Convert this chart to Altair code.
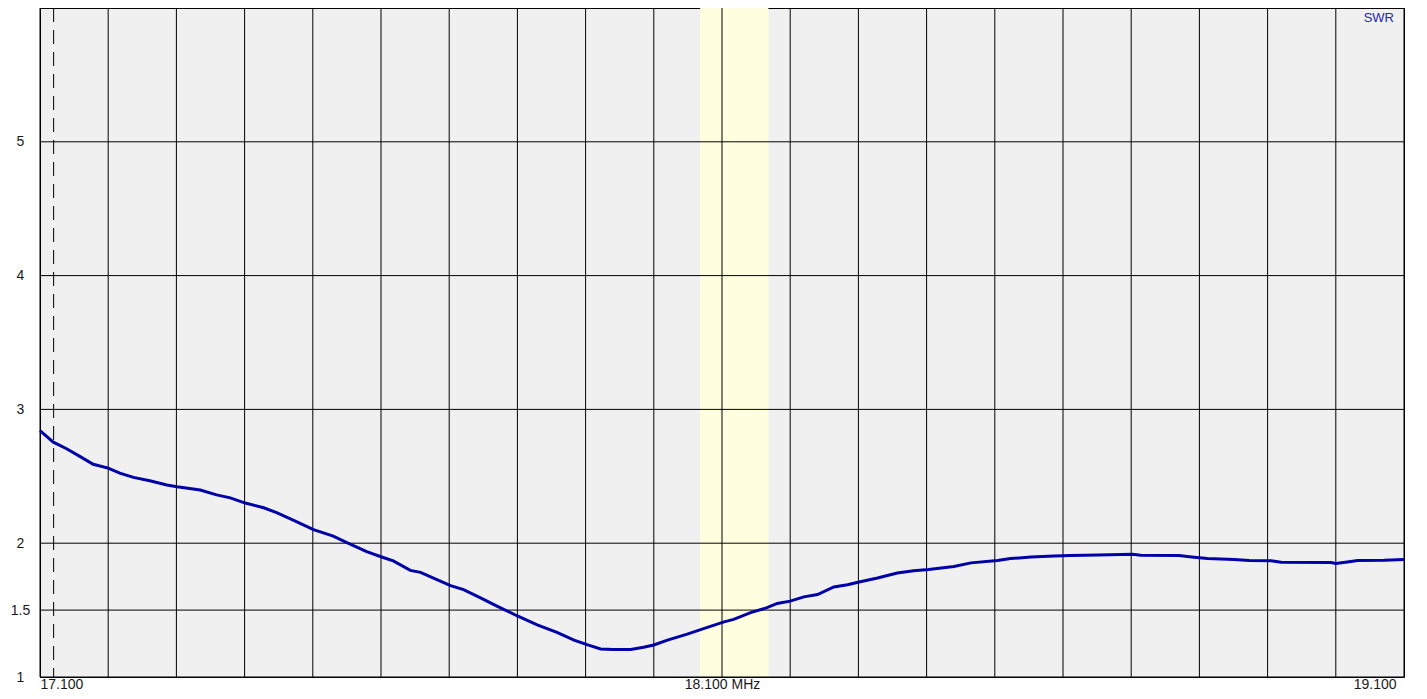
import altair as alt
import pandas as pd

# ---- data ----
freq_mhz = [17.100, 17.1195, 17.139, 17.159, 17.178, 17.200, 17.217, 17.237, 17.261, 17.286,
            17.301, 17.335, 17.359, 17.379, 17.401, 17.428, 17.447, 17.472, 17.501, 17.530,
            17.550, 17.579, 17.601, 17.618, 17.643, 17.658, 17.682, 17.702, 17.721, 17.746,
            17.770, 17.800, 17.829, 17.858, 17.883, 17.902, 17.922, 17.941, 17.966, 17.985,
            18.000, 18.020, 18.049, 18.073, 18.103, 18.117, 18.142, 18.166, 18.181, 18.200,
            18.220, 18.240, 18.264, 18.284, 18.301, 18.328, 18.357, 18.381, 18.403, 18.440,
            18.465, 18.504, 18.523, 18.553, 18.587, 18.611, 18.651, 18.702, 18.714, 18.770,
            18.792, 18.812, 18.851, 18.873, 18.905, 18.920, 18.993, 19.000, 19.017, 19.032,
            19.071, 19.100]
swr = [2.842, 2.755, 2.706, 2.647, 2.590, 2.561, 2.524, 2.492, 2.467, 2.435,
       2.422, 2.398, 2.361, 2.339, 2.300, 2.265, 2.228, 2.171, 2.102, 2.053,
       2.004, 1.937, 1.897, 1.868, 1.797, 1.782, 1.727, 1.683, 1.653, 1.592,
       1.530, 1.456, 1.390, 1.333, 1.276, 1.242, 1.209, 1.205, 1.205, 1.222,
       1.239, 1.276, 1.320, 1.362, 1.412, 1.431, 1.481, 1.518, 1.550, 1.567,
       1.599, 1.616, 1.673, 1.690, 1.710, 1.740, 1.777, 1.794, 1.804, 1.826,
       1.853, 1.871, 1.885, 1.897, 1.905, 1.908, 1.912, 1.917, 1.910, 1.908,
       1.895, 1.885, 1.878, 1.871, 1.868, 1.858, 1.856, 1.848, 1.860, 1.871,
       1.873, 1.878]

x_grid = [17.1, 17.2, 17.3, 17.4, 17.5, 17.6, 17.7, 17.8, 17.9, 18.0, 18.1,
          18.2, 18.3, 18.4, 18.5, 18.6, 18.7, 18.8, 18.9, 19.0, 19.1]
x_label_values = [17.1, 18.1, 19.1]
y_grid = [1, 1.5, 2, 3, 4, 5]
y_label_values = [1, 1.5, 2, 3, 4, 5]
band_start = [18.068]
band_end = [18.168]
marker_freq = [17.12]
series_name = "SWR"

# ---- chart ----
curve = pd.DataFrame({"f": freq_mhz, "s": swr})
xg = pd.DataFrame({"g": x_grid})
yg = pd.DataFrame({"g": y_grid})
band = pd.DataFrame({"a": band_start, "b": band_end})
marker = pd.DataFrame({"m": marker_freq})

xscale = alt.Scale(domain=[17.1, 19.1], nice=False, zero=False)
yscale = alt.Scale(domain=[1, 6], nice=False, zero=False)

FONT = "Liberation Sans"
xaxis = alt.Axis(
    values=x_label_values, title=None, grid=False, domain=False, ticks=False, tickSize=0,
    labelFont=FONT, labelFontSize=14, labelColor="#1a1a1a", labelPadding=0,
    labelBaseline="top",
    labelExpr="abs(datum.value - 18.1) < 0.001 ? format(datum.value, '.3f') + ' MHz' : format(datum.value, '.3f')",
    labelOffset={"condition": {"test": "datum.value > 19", "value": -8}, "value": 0},
    labelOverlap=False,
)
yaxis = alt.Axis(
    values=y_label_values, title=None, grid=False, domain=False, ticks=False, tickSize=0,
    labelFont=FONT, labelFontSize=14, labelColor="#1a1a1a", labelPadding=20,
    labelAlign="center", labelBaseline="middle", labelOverlap=False,
    labelExpr="format(datum.value, '~g')",
)

band_layer = alt.Chart(band).mark_rect(color="#FFFFE0", opacity=1).encode(
    x=alt.X("a:Q", scale=xscale, axis=xaxis), x2="b:Q"
)
vgrid = alt.Chart(xg).mark_rule(color="black", strokeWidth=1).encode(
    x=alt.X("g:Q", scale=xscale, axis=xaxis)
)
hgrid = alt.Chart(yg).mark_rule(color="black", strokeWidth=1).encode(
    y=alt.Y("g:Q", scale=yscale, axis=yaxis)
)
marker_layer = alt.Chart(marker).mark_rule(color="black", strokeWidth=1, strokeDash=[14, 8]).encode(
    x=alt.X("m:Q", scale=xscale, axis=xaxis)
)
line_layer = alt.Chart(curve).mark_line(color="#0000A8", strokeWidth=3).encode(
    x=alt.X("f:Q", scale=xscale, axis=xaxis),
    y=alt.Y("s:Q", scale=yscale, axis=yaxis),
)
label_layer = alt.Chart(pd.DataFrame({"t": [series_name]})).mark_text(
    align="right", baseline="middle", font=FONT, fontSize=13, color="#2525B5"
).encode(x=alt.value(1354), y=alt.value(10), text="t:N")

chart = alt.layer(band_layer, vgrid, hgrid, marker_layer, line_layer, label_layer).properties(
    width=1364, height=669,
    padding={"left": 32, "top": 0, "right": 14, "bottom": 14},
    autosize=alt.AutoSizeParams(type="none"),
    background="white",
).configure_view(fill="#F0F0F0", stroke="black", strokeWidth=1)

chart.save("out.html", embed_options={"renderer": "svg", "actions": False})
